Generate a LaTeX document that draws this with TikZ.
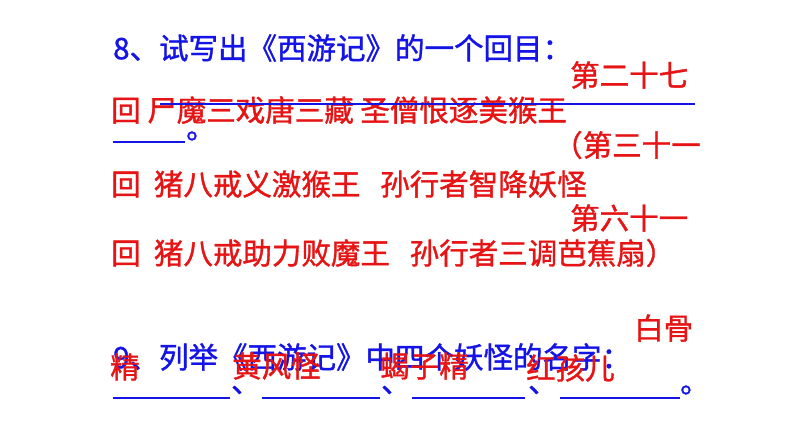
\documentclass[tikz,border=0pt]{standalone}
\usepackage{fontspec}
\newfontfamily\cjk[FakeBold=1.2]{Noto Sans CJK SC}
\definecolor{tb}{RGB}{20,20,230}
\definecolor{tr}{RGB}{230,20,20}
\begin{document}
\begin{tikzpicture}[x=1pt,y=-1pt,
  t/.style={anchor=west,inner sep=0pt,font=\cjk\fontsize{29.5}{32}\selectfont},
  bl/.style={t,text=tb},rd/.style={t,text=tr},ul/.style={draw=tb,line width=1.2pt}]
\useasboundingbox[fill=white] (0,0) rectangle (794,447);
\node[bl] (a) at (113,48) {8、试写出《西游记》的一个回目：};
\node[rd] (b) at (570,75) {第二十七};
\node[rd] (c) at (111,110) {回\ 尸魔三戏唐三藏\ 圣僧恨逐美猴王};
\coordinate (l1a) at (160,104); \coordinate (l1b) at (695,104);
\draw[ul] (l1a) -- (l1b);
\coordinate (l2a) at (113,142); \coordinate (l2b) at (185,142);
\draw[ul] (l2a) -- (l2b);
\node[bl] (d) at (186,136) {。};
\node[rd] (e) at (553,145) {（第三十一};
\node[rd] (f) at (111,184) {回\ \ 猪八戒义激猴王\ \ \ 孙行者智降妖怪};
\node[rd] (g) at (570,218) {第六十一};
\node[rd] (h) at (111,253) {回\ \ 猪八戒助力败魔王\ \ \ 孙行者三调芭蕉扇）};
\node[bl] (i) at (113,357) {9、列举《西游记》中四个妖怪的名字：};
\node[rd] (j) at (634,328) {白骨};
\node[rd] (k) at (110,367) {精};
\node[rd] (m) at (232,366) {黄风怪};
\node[rd] (n) at (380,366) {蝎子精};
\node[rd] (o) at (526,368) {红孩儿};
\coordinate (s1) at (113,398); \coordinate (s2) at (230,398);
\coordinate (s3) at (262,398); \coordinate (s4) at (380,398);
\coordinate (s5) at (412,398); \coordinate (s6) at (525,398);
\coordinate (s7) at (560,398); \coordinate (s8) at (680,398);
\draw[ul] (s1)--(s2) (s3)--(s4) (s5)--(s6) (s7)--(s8);
\node[bl] (p1) at (231,390) {、};
\node[bl] (p2) at (381,390) {、};
\node[bl] (p3) at (528,390) {、};
\node[bl] (p4) at (680,390) {。};
\end{tikzpicture}
\end{document}
